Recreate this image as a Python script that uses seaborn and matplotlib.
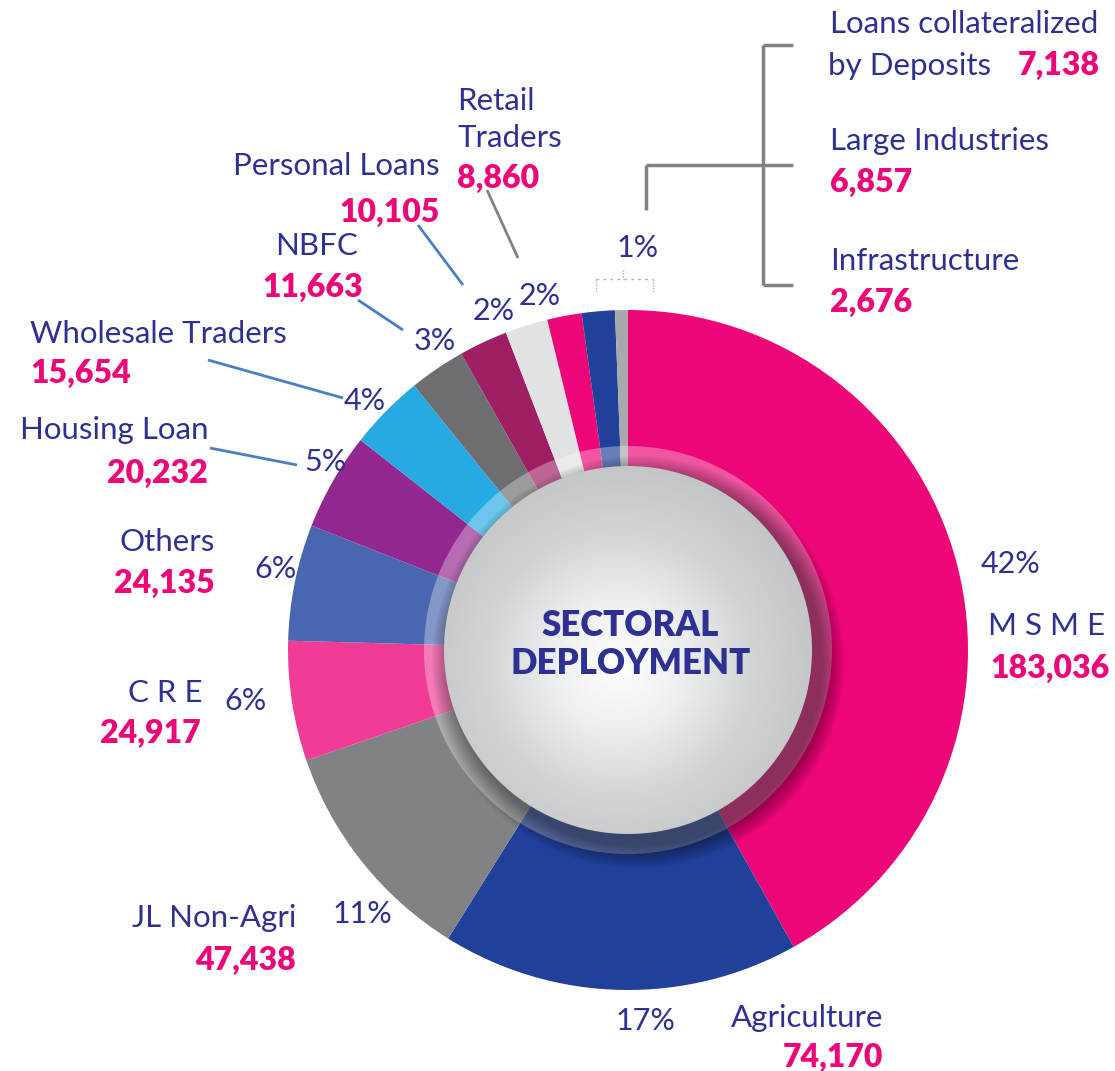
import numpy as np
import matplotlib
matplotlib.use("Agg")
import matplotlib.pyplot as plt
from matplotlib.patches import Wedge, Circle
from matplotlib.colors import LinearSegmentedColormap
import seaborn as sns

# ---------------- data ----------------
sectors = ["M S M E", "Agriculture", "JL Non-Agri", "C R E", "Others", "Housing Loan",
           "Wholesale Traders", "NBFC", "Personal Loans", "Retail Traders",
           "Loans collateralized by Deposits", "Large Industries", "Infrastructure"]
amounts = [183036, 74170, 47438, 24917, 24135, 20232, 15654, 11663, 10105, 8860,
           7138, 6857, 2676]
amount_labels = ["183,036", "74,170", "47,438", "24,917", "24,135", "20,232", "15,654",
                 "11,663", "10,105", "8,860", "7,138", "6,857", "2,676"]
pct_labels = ["42%", "17%", "11%", "6%", "6%", "5%", "4%", "3%", "2%", "2%", "1%"]
slice_colors = ["#EC0677", "#21409A", "#808285", "#F03C96", "#4B66B0", "#92278F",
                "#27AAE1", "#6D6E71", "#9E1F63", "#E1E2E4", "#EC0677", "#21409A", "#A7A9AC"]
title_lines = ["SECTORAL", "DEPLOYMENT"]

BLUE = "#2E3192"
PINK = "#EC0677"
LEADER = "#4A7FC0"
GRAY = "#808285"

sns.set_theme(style="white")
plt.rcParams["font.family"] = ["Lato", "DejaVu Sans"]
palette = sns.color_palette(slice_colors)

W, H = 1115, 1071
fig = plt.figure(figsize=(W / 100, H / 100), dpi=100)
ax = fig.add_axes([0, 0, 1, 1])

def Y(y):
    return H - y

cx, cy = 628, Y(650)
R_out = 340
R_in = 184
R_ring = 204

ax.pie(amounts, colors=palette, startangle=90, counterclock=False,
       center=(cx, cy), radius=R_out,
       wedgeprops=dict(width=R_out - R_in + 2, linewidth=0))

# translucent ring
ax.add_patch(Wedge((cx, cy), R_ring, 0, 360, width=R_ring - R_in + 2,
                   facecolor="white", alpha=0.32, linewidth=0, zorder=3))

# soft shadow of centre disc
for i in range(14):
    ax.add_patch(Circle((cx + 10, cy - 12), R_in + 22 - i * 1.6, facecolor="black",
                        alpha=0.035, linewidth=0, zorder=4))

# centre disc with radial gradient
n = 400
xs = np.linspace(-1, 1, n)
XX, YY = np.meshgrid(xs, xs)
dist = np.sqrt((XX + 0.05) ** 2 + (YY + 0.08) ** 2)
cmap = LinearSegmentedColormap.from_list("g", ["#FFFFFF", "#EDEEEF", "#D2D3D5", "#C4C5C7"])
img = ax.imshow(dist, cmap=cmap, vmin=0, vmax=1.1,
                extent=(cx - R_in, cx + R_in, cy - R_in, cy + R_in),
                origin="lower", zorder=5, interpolation="bilinear")
clip = Circle((cx, cy), R_in, transform=ax.transData)
img.set_clip_path(clip)

ax.text(cx + 2, Y(636), title_lines[0], ha="center", va="baseline", fontsize=25,
        fontweight="heavy", color=BLUE, zorder=6)
ax.text(cx + 3, Y(674), title_lines[1], ha="center", va="baseline", fontsize=25,
        fontweight="heavy", color=BLUE, zorder=6)

FS = 22.5
FSN = 23

def name(x, y, s, ha="left"):
    ax.text(x, Y(y), s, ha=ha, va="baseline", fontsize=FS, color=BLUE, zorder=7)

def num(x, y, s, ha="left"):
    ax.text(x, Y(y), s, ha=ha, va="baseline", fontsize=FSN, fontweight="heavy",
            color=PINK, zorder=7)

def pct(x, y, s):
    ax.text(x, Y(y), s, ha="center", va="baseline", fontsize=22, color=BLUE, zorder=7)

def line(xs_, ys_, color=LEADER, lw=2):
    ax.plot(xs_, [Y(v) for v in ys_], color=color, lw=lw, solid_capstyle="butt", zorder=7)

# MSME
pct(1011, 573, pct_labels[0]); name(1047, 635, sectors[0], "center"); num(1050, 678, amount_labels[0], "center")
# Agriculture
pct(645, 1030, pct_labels[1]); name(883, 1027, sectors[1], "right"); num(883, 1067, amount_labels[1], "right")
# JL Non-Agri
pct(362, 923, pct_labels[2]); name(296, 927, sectors[2], "right"); num(296, 970, amount_labels[2], "right")
# CRE
pct(245, 710, pct_labels[3]); name(203, 702, sectors[3], "right"); num(201, 743, amount_labels[3], "right")
# Others
pct(276, 578, pct_labels[4]); name(215, 551, sectors[4], "right"); num(215, 593, amount_labels[4], "right")
# Housing Loan
pct(325, 471, pct_labels[5]); name(208, 439, sectors[5], "right"); num(208, 483, amount_labels[5], "right")
line([210, 297], [448, 465])
# Wholesale Traders
pct(365, 410, pct_labels[6]); name(30, 343, sectors[6]); num(30, 383, amount_labels[6])
line([208, 343], [360, 398])
# NBFC
pct(435, 350, pct_labels[7]); name(317, 255, sectors[7], "center"); num(313, 297, amount_labels[7], "center")
line([358, 403], [300, 330])
# Personal Loans
pct(494, 320, pct_labels[8]); name(440, 175, sectors[8], "right"); num(440, 222, amount_labels[8], "right")
line([418, 463], [225, 285])
# Retail Traders
pct(540, 305, pct_labels[9]); name(457, 110, "Retail"); name(457, 147, "Traders"); num(457, 188, amount_labels[9])
line([487, 518], [190, 258], color=GRAY)
# 1 %
pct(638, 257, pct_labels[10])

# bracket for the three small sectors
line([646, 646], [210, 165], color=GRAY, lw=2.5)
line([646, 763], [165, 165], color=GRAY, lw=2.5)
line([763, 763], [45, 285], color=GRAY, lw=2.5)
for yy in (45, 165, 285):
    line([763, 793], [yy, yy], color=GRAY, lw=2.5)

# tiny dotted mark under 1%
line([596, 653], [279, 279], color="#B0B0B0", lw=1)
ax.lines[-1].set_linestyle((0, (2, 3)))
for xx in (596, 653):
    line([xx, xx], [279, 292], color="#B0B0B0", lw=1)
    ax.lines[-1].set_linestyle((0, (1, 1)))
line([623, 623], [270, 279], color="#B0B0B0", lw=1)
ax.lines[-1].set_linestyle((0, (1, 1)))

name(830, 33, "Loans collateralized")
name(828, 75, "by Deposits"); num(1100, 75, amount_labels[10], "right")
name(830, 150, sectors[11]); num(830, 192, amount_labels[11])
name(830, 270, sectors[12]); num(830, 312, amount_labels[12])

ax.set_xlim(0, W)
ax.set_ylim(0, H)
ax.set_aspect("equal")
ax.axis("off")
fig.savefig("out.png", dpi=100, facecolor="white")
